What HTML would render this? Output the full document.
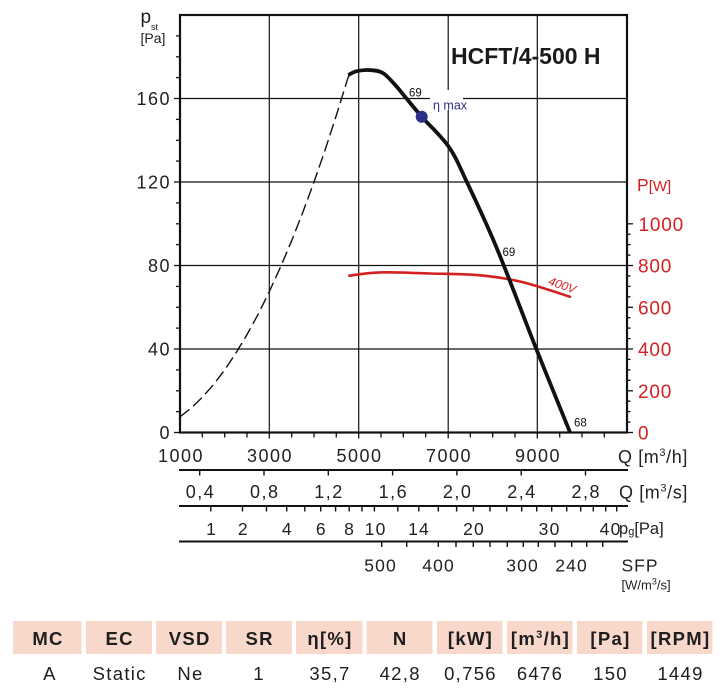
<!DOCTYPE html>
<html><head><meta charset="utf-8"><style>
html,body{margin:0;padding:0;background:#fff;}
svg{display:block;}
text{font-family:"Liberation Sans","DejaVu Sans",sans-serif;}
</style></head><body>
<svg width="722" height="691" viewBox="0 0 722 691" xmlns="http://www.w3.org/2000/svg">
<rect width="722" height="691" fill="#fff"/>
<!-- grid -->
<g stroke="#111" stroke-width="1.2">
<line x1="180" y1="349" x2="627" y2="349"/>
<line x1="180" y1="265.5" x2="627" y2="265.5"/>
<line x1="180" y1="182" x2="627" y2="182"/>
<line x1="180" y1="98.5" x2="627" y2="98.5"/>
<line x1="269.3" y1="15" x2="269.3" y2="432.5"/>
<line x1="358.7" y1="15" x2="358.7" y2="432.5"/>
<line x1="448.2" y1="15" x2="448.2" y2="432.5"/>
<line x1="537.3" y1="15" x2="537.3" y2="432.5"/>
</g>
<!-- white box behind eta max -->
<rect x="430" y="90" width="33" height="20" fill="#fff"/>
<!-- frame -->
<rect x="180" y="15" width="447" height="417.5" fill="none" stroke="#111" stroke-width="2.2"/>
<!-- left ticks -->
<g stroke="#111" stroke-width="1.3">
<line x1="174" y1="432.5" x2="180" y2="432.5"/>
<line x1="176" y1="411.6" x2="180" y2="411.6"/>
<line x1="176" y1="390.8" x2="180" y2="390.8"/>
<line x1="176" y1="369.9" x2="180" y2="369.9"/>
<line x1="174" y1="349" x2="180" y2="349"/>
<line x1="176" y1="328.1" x2="180" y2="328.1"/>
<line x1="176" y1="307.3" x2="180" y2="307.3"/>
<line x1="176" y1="286.4" x2="180" y2="286.4"/>
<line x1="174" y1="265.5" x2="180" y2="265.5"/>
<line x1="176" y1="244.6" x2="180" y2="244.6"/>
<line x1="176" y1="223.8" x2="180" y2="223.8"/>
<line x1="176" y1="202.9" x2="180" y2="202.9"/>
<line x1="174" y1="182" x2="180" y2="182"/>
<line x1="176" y1="161.1" x2="180" y2="161.1"/>
<line x1="176" y1="140.3" x2="180" y2="140.3"/>
<line x1="176" y1="119.4" x2="180" y2="119.4"/>
<line x1="174" y1="98.5" x2="180" y2="98.5"/>
<line x1="176" y1="77.6" x2="180" y2="77.6"/>
<line x1="176" y1="56.8" x2="180" y2="56.8"/>
<line x1="176" y1="35.9" x2="180" y2="35.9"/>
</g>
<!-- bottom ticks -->
<g stroke="#111" stroke-width="1.3">
<line x1="202.3" y1="432.5" x2="202.3" y2="437.5"/>
<line x1="224.7" y1="432.5" x2="224.7" y2="437.5"/>
<line x1="247" y1="432.5" x2="247" y2="437.5"/>
<line x1="269.3" y1="432.5" x2="269.3" y2="438.5"/>
<line x1="291.7" y1="432.5" x2="291.7" y2="437.5"/>
<line x1="314" y1="432.5" x2="314" y2="437.5"/>
<line x1="336.3" y1="432.5" x2="336.3" y2="437.5"/>
<line x1="358.7" y1="432.5" x2="358.7" y2="438.5"/>
<line x1="381" y1="432.5" x2="381" y2="437.5"/>
<line x1="403.3" y1="432.5" x2="403.3" y2="437.5"/>
<line x1="425.7" y1="432.5" x2="425.7" y2="437.5"/>
<line x1="448.2" y1="432.5" x2="448.2" y2="438.5"/>
<line x1="470.3" y1="432.5" x2="470.3" y2="437.5"/>
<line x1="492.7" y1="432.5" x2="492.7" y2="437.5"/>
<line x1="515" y1="432.5" x2="515" y2="437.5"/>
<line x1="537.3" y1="432.5" x2="537.3" y2="438.5"/>
<line x1="559.7" y1="432.5" x2="559.7" y2="437.5"/>
<line x1="582" y1="432.5" x2="582" y2="437.5"/>
<line x1="604.3" y1="432.5" x2="604.3" y2="437.5"/>
</g>
<!-- right ticks -->
<g stroke="#111" stroke-width="1.3">
<line x1="627" y1="432.5" x2="633" y2="432.5"/>
<line x1="627" y1="422.1" x2="630.5" y2="422.1"/>
<line x1="627" y1="411.6" x2="630.5" y2="411.6"/>
<line x1="627" y1="401.2" x2="630.5" y2="401.2"/>
<line x1="627" y1="390.8" x2="633" y2="390.8"/>
<line x1="627" y1="380.3" x2="630.5" y2="380.3"/>
<line x1="627" y1="369.9" x2="630.5" y2="369.9"/>
<line x1="627" y1="359.4" x2="630.5" y2="359.4"/>
<line x1="627" y1="349" x2="633" y2="349"/>
<line x1="627" y1="338.6" x2="630.5" y2="338.6"/>
<line x1="627" y1="328.1" x2="630.5" y2="328.1"/>
<line x1="627" y1="317.7" x2="630.5" y2="317.7"/>
<line x1="627" y1="307.3" x2="633" y2="307.3"/>
<line x1="627" y1="296.8" x2="630.5" y2="296.8"/>
<line x1="627" y1="286.4" x2="630.5" y2="286.4"/>
<line x1="627" y1="275.9" x2="630.5" y2="275.9"/>
<line x1="627" y1="265.5" x2="633" y2="265.5"/>
<line x1="627" y1="255.1" x2="630.5" y2="255.1"/>
<line x1="627" y1="244.6" x2="630.5" y2="244.6"/>
<line x1="627" y1="234.2" x2="630.5" y2="234.2"/>
<line x1="627" y1="223.8" x2="633" y2="223.8"/>
</g>
<!-- dashed system curve -->
<polyline fill="none" stroke="#111" stroke-width="1.4" stroke-dasharray="12 5" points="180,416.8 191.2,408 202.3,397.3 213.5,384.6 224.7,369.9 235.8,353.2 247,334.6 258.2,314.1 269.3,291.6 280.5,267.1 291.7,240.7 302.8,212.3 314,182 325.2,149.7 336.3,115.4 347.5,79.3 349,75"/>
<!-- red power curve -->
<path fill="none" stroke="#d42020" stroke-width="2.6" stroke-linecap="round" d="M349.3,275.7 C354.4,275.15 366.55,272.77 380,272.4 C393.45,272.03 413.3,273.0 430,273.5 C446.7,274 464.7,273.9 480,275.3 C495.3,276.7 507,278.4 522,282 C537,285.6 562,294.25 570,296.7"/>
<!-- main fan curve -->
<path fill="none" stroke="#111" stroke-width="3.8" stroke-linecap="butt" d="M348.3,75 C349.7,74.4 353.1,72.0 356.7,71.2 C360.3,70.4 365.6,69.75 370,70.1 C374.4,70.45 378.85,70.5 383.3,73.3 C387.75,76.07 393.1,82.8 396.7,86.7 C400.3,90.6 400.8,91.7 405,96.7 C409.2,101.7 414.4,108.4 421.7,116.7 C429,125 441.2,135.9 448.7,146.7 C456.2,157.5 458.7,164.8 466.7,181.7 C474.7,198.6 485,220 496.7,248 C508.4,276 524.5,319.3 536.7,350 C548.9,380.4 564.4,418.6 570,432.3"/>
<circle cx="421.7" cy="116.7" r="6" fill="#2e2f88"/>
<!-- curve labels -->
<text x="409" y="96.7" font-size="11.5" fill="#111">69</text>
<text x="433" y="109.5" font-size="12.5" fill="#2e2f88">η max</text>
<text x="502.5" y="256" font-size="11.5" fill="#111">69</text>
<text x="574" y="426.7" font-size="11.5" fill="#111">68</text>
<text x="561" y="289" font-size="12" font-style="italic" fill="#d42020" text-anchor="middle" transform="rotate(19 561 289)">400V</text>
<!-- title -->
<text x="451" y="64" font-size="23" font-weight="bold" fill="#1a1a1a">HCFT/4-500 H</text>
<!-- left axis labels -->
<g font-size="18" fill="#222" text-anchor="end" letter-spacing="1.5">
<text x="171" y="105.2">160</text>
<text x="171" y="188.7">120</text>
<text x="171" y="272.2">80</text>
<text x="171" y="355.7">40</text>
<text x="171" y="439.2">0</text>
</g>
<text x="140.5" y="23" font-size="19" fill="#222">p</text>
<text x="151" y="30" font-size="9" fill="#222">st</text>
<text x="140.5" y="43" font-size="14" fill="#222">[Pa]</text>
<!-- right axis labels -->
<g font-size="19" fill="#d42020" letter-spacing="0.8">
<text x="638.5" y="231">1000</text>
<text x="638" y="272.5">800</text>
<text x="638" y="314.3">600</text>
<text x="638" y="356">400</text>
<text x="638" y="397.8">200</text>
<text x="638" y="439.5">0</text>
</g>
<text x="637" y="191" font-size="17.5" fill="#d42020">P<tspan font-size="15">[W]</tspan></text>
<!-- bottom Q m3/h labels -->
<g font-size="18" fill="#222" text-anchor="middle" letter-spacing="1.5">
<text x="181" y="462">1000</text>
<text x="270" y="462">3000</text>
<text x="359.5" y="462">5000</text>
<text x="449" y="462">7000</text>
<text x="538" y="462">9000</text>
</g>
<text x="618" y="463" font-size="18" fill="#222" letter-spacing="0.6">Q [m<tspan font-size="11" dy="-7">3</tspan><tspan dy="7">/h]</tspan></text>
<!-- secondary axes lines -->
<g stroke="#111" stroke-width="2">
<line x1="179" y1="470" x2="628" y2="470"/>
<line x1="179" y1="506" x2="628" y2="506"/>
<line x1="179" y1="541.5" x2="628" y2="541.5"/>
</g>
<g stroke="#111" stroke-width="1.4">
<line x1="199.7" y1="470" x2="199.7" y2="475.5"/>
<line x1="264" y1="470" x2="264" y2="475.5"/>
<line x1="328.3" y1="470" x2="328.3" y2="475.5"/>
<line x1="392.6" y1="470" x2="392.6" y2="475.5"/>
<line x1="456.9" y1="470" x2="456.9" y2="475.5"/>
<line x1="521.2" y1="470" x2="521.2" y2="475.5"/>
<line x1="585.5" y1="470" x2="585.5" y2="475.5"/>
<!-- pg ticks -->
<line x1="210.8" y1="506" x2="210.8" y2="511.5"/>
<line x1="242.5" y1="506" x2="242.5" y2="511.5"/>
<line x1="266.5" y1="506" x2="266.5" y2="511.5"/>
<line x1="286.7" y1="506" x2="286.7" y2="511.5"/>
<line x1="304.8" y1="506" x2="304.8" y2="511.5"/>
<line x1="320.7" y1="506" x2="320.7" y2="511.5"/>
<line x1="335.6" y1="506" x2="335.6" y2="511.5"/>
<line x1="349.2" y1="506" x2="349.2" y2="511.5"/>
<line x1="362" y1="506" x2="362" y2="511.5"/>
<line x1="374.4" y1="506" x2="374.4" y2="511.5"/>
<line x1="397.8" y1="506" x2="397.8" y2="511.5"/>
<line x1="418.8" y1="506" x2="418.8" y2="511.5"/>
<line x1="438.3" y1="506" x2="438.3" y2="511.5"/>
<line x1="456.6" y1="506" x2="456.6" y2="511.5"/>
<line x1="473.4" y1="506" x2="473.4" y2="511.5"/>
<line x1="490" y1="506" x2="490" y2="511.5"/>
<line x1="506.7" y1="506" x2="506.7" y2="511.5"/>
<line x1="521.7" y1="506" x2="521.7" y2="511.5"/>
<line x1="536.7" y1="506" x2="536.7" y2="511.5"/>
<line x1="551.7" y1="506" x2="551.7" y2="511.5"/>
<line x1="566.7" y1="506" x2="566.7" y2="511.5"/>
<line x1="580.7" y1="506" x2="580.7" y2="511.5"/>
<line x1="593.3" y1="506" x2="593.3" y2="511.5"/>
<line x1="605.7" y1="506" x2="605.7" y2="511.5"/>
<line x1="616.7" y1="506" x2="616.7" y2="511.5"/>
<!-- SFP ticks -->
<line x1="381.7" y1="541.5" x2="381.7" y2="547"/>
<line x1="406.7" y1="541.5" x2="406.7" y2="547"/>
<line x1="438.3" y1="541.5" x2="438.3" y2="547"/>
<line x1="456" y1="541.5" x2="456" y2="547"/>
<line x1="473.3" y1="541.5" x2="473.3" y2="547"/>
<line x1="490" y1="541.5" x2="490" y2="547"/>
<line x1="507.3" y1="541.5" x2="507.3" y2="547"/>
<line x1="523.3" y1="541.5" x2="523.3" y2="547"/>
<line x1="538.3" y1="541.5" x2="538.3" y2="547"/>
<line x1="555" y1="541.5" x2="555" y2="547"/>
<line x1="571.7" y1="541.5" x2="571.7" y2="547"/>
<line x1="586.7" y1="541.5" x2="586.7" y2="547"/>
<line x1="602.7" y1="541.5" x2="602.7" y2="547"/>
</g>
<!-- Q m3/s labels -->
<g font-size="18" fill="#222" text-anchor="middle" letter-spacing="1.5">
<text x="200.5" y="498">0,4</text>
<text x="264.8" y="498">0,8</text>
<text x="329" y="498">1,2</text>
<text x="393.4" y="498">1,6</text>
<text x="457.7" y="498">2,0</text>
<text x="522" y="498">2,4</text>
<text x="586.3" y="498">2,8</text>
</g>
<text x="619" y="498.5" font-size="18" fill="#222" letter-spacing="0.6">Q [m<tspan font-size="11" dy="-7">3</tspan><tspan dy="7">/s]</tspan></text>
<!-- pg labels -->
<g font-size="17.5" fill="#222" text-anchor="middle" letter-spacing="1.2">
<text x="211.6" y="535">1</text>
<text x="243.3" y="535">2</text>
<text x="287.3" y="535">4</text>
<text x="321.3" y="535">6</text>
<text x="349.6" y="535">8</text>
<text x="375.6" y="535">10</text>
<text x="419" y="535">14</text>
<text x="474" y="535">20</text>
<text x="549.6" y="535">30</text>
<text x="610.6" y="535">40</text>
</g>
<text x="619" y="534" font-size="16.5" fill="#222">p<tspan font-size="11" dy="1">g</tspan><tspan dy="-1">[Pa]</tspan></text>
<!-- SFP labels -->
<g font-size="17.5" fill="#222" text-anchor="middle" letter-spacing="1.2">
<text x="380.6" y="571.5">500</text>
<text x="438.6" y="571.5">400</text>
<text x="522.6" y="571.5">300</text>
<text x="571.6" y="571.5">240</text>
</g>
<text x="621.5" y="571.5" font-size="17.5" fill="#222" letter-spacing="1">SFP</text>
<text x="621.5" y="589.5" font-size="13" fill="#222">[W/m<tspan font-size="9" dy="-5">3</tspan><tspan dy="5">/s]</tspan></text>
<!-- table -->
<g fill="#f8d8ca">
<rect x="13" y="621" width="68.5" height="33"/>
<rect x="86" y="621" width="66" height="33"/>
<rect x="156" y="621" width="66" height="33"/>
<rect x="226" y="621" width="66" height="33"/>
<rect x="296" y="621" width="66.5" height="33"/>
<rect x="366.5" y="621" width="66" height="33"/>
<rect x="437" y="621" width="65.5" height="33"/>
<rect x="507" y="621" width="65.5" height="33"/>
<rect x="577" y="621" width="65.5" height="33"/>
<rect x="647" y="621" width="65.5" height="33"/>
</g>
<g font-size="18.5" font-weight="bold" fill="#1e1e1e" text-anchor="middle" letter-spacing="1.3">
<text x="48" y="645">MC</text>
<text x="119.7" y="645">EC</text>
<text x="189.7" y="645">VSD</text>
<text x="259.7" y="645">SR</text>
<text x="330" y="645">η[%]</text>
<text x="400.2" y="645">N</text>
<text x="470.5" y="645">[kW]</text>
<text x="540.5" y="645">[m<tspan font-size="11" dy="-7">3</tspan><tspan dy="7">/h]</tspan></text>
<text x="610.5" y="645">[Pa]</text>
<text x="680.5" y="645">[RPM]</text>
</g>
<g font-size="18.5" fill="#1e1e1e" text-anchor="middle" letter-spacing="1.3">
<text x="50" y="680">A</text>
<text x="119.7" y="680">Static</text>
<text x="190.5" y="680">Ne</text>
<text x="259" y="680">1</text>
<text x="330" y="680">35,7</text>
<text x="400.2" y="680">42,8</text>
<text x="470.5" y="680">0,756</text>
<text x="540" y="680">6476</text>
<text x="610.5" y="680">150</text>
<text x="680.5" y="680">1449</text>
</g>
</svg>
</body></html>
